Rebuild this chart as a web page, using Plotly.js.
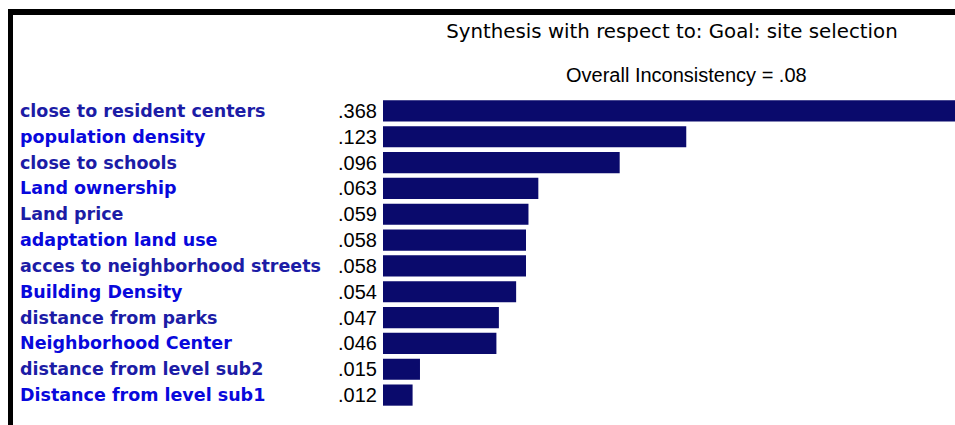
<!DOCTYPE html>
<html>
<head>
<meta charset="utf-8">
<script src="https://cdn.plot.ly/plotly-3.0.1.min.js"></script>
<style>
  html, body { margin: 0; padding: 0; background: #ffffff; }
  #wrap { position: relative; width: 955px; height: 425px; overflow: hidden; }
  #chart { position: absolute; left: 0; top: 0; width: 955px; height: 425px; }
  #frame { position: absolute; left: 8px; top: 9px; width: 960px; height: 430px;
           border-top: 6px solid #000; border-left: 5px solid #000; pointer-events: none; }
</style>
</head>
<body>
<div id="wrap">
  <div id="chart"></div>
  <div id="frame"></div>
</div>
<script>
// ---- data ----
const categories = [
  "close to resident centers",
  "population density",
  "close to schools",
  "Land ownership",
  "Land price",
  "adaptation land use",
  "acces to neighborhood streets",
  "Building Density",
  "distance from parks",
  "Neighborhood Center",
  "distance from level sub2",
  "Distance from level sub1"
];
const priorities = [0.368, 0.123, 0.096, 0.063, 0.059, 0.058, 0.058, 0.054, 0.047, 0.046, 0.015, 0.012];
const titleText = "Synthesis with respect to: Goal: site selection";
const subtitleText = "Overall Inconsistency = .08";

// formatted value labels, e.g. ".368"
const valueLabels = priorities.map(v => v.toFixed(3).replace(/^0/, ""));

const W = 955, H = 425;
const plotLeft = 383, plotRight = 955;
const plotW = plotRight - plotLeft;

const labelColors = categories.map((c, i) => (i % 2 === 0 ? "#1c1ca6" : "#0808dc"));

const trace = {
  type: "bar",
  orientation: "h",
  y: categories,
  x: priorities,
  marker: { color: "#0a0a6c", line: { width: 0 } },
  hoverinfo: "skip",
  cliponaxis: true
};

const nameAnnotations = categories.map((c, i) => ({
  xref: "paper", yref: "y",
  x: (18 - plotLeft) / plotW, y: c,
  xanchor: "left", yanchor: "middle",
  text: c, showarrow: false,
  font: { family: "DejaVu Sans", size: 17.5, color: labelColors[i], weight: "bold" }
}));

const layout = {
  width: W, height: H,
  margin: { l: plotLeft, r: W - plotRight, t: 98, b: 17, pad: 0 },
  paper_bgcolor: "#ffffff",
  plot_bgcolor: "#ffffff",
  showlegend: false,
  bargap: 0.18,
  title: {
    text: titleText,
    xref: "paper", yref: "container",
    x: (672 - plotLeft) / plotW, xanchor: "center",
    y: 1 - 31 / H, yanchor: "middle",
    font: { family: "DejaVu Sans", size: 19.8, color: "#000000" }
  },
  xaxis: {
    range: [0, 0.232],
    showgrid: false, zeroline: false, showline: false,
    showticklabels: false, ticks: "", fixedrange: true
  },
  yaxis: {
    type: "category",
    categoryorder: "array", categoryarray: categories,
    autorange: "reversed",
    tickvals: categories, ticktext: valueLabels,
    ticks: "", showgrid: false, zeroline: false, showline: false,
    ticklabelstandoff: 5,
    tickfont: { family: "Liberation Sans", size: 20, color: "#000000" },
    fixedrange: true
  },
  annotations: [
    {
      xref: "paper", yref: "paper",
      x: (686 - plotLeft) / plotW, y: (H - 17 - 75) / (H - 98 - 17),
      xanchor: "center", yanchor: "middle",
      text: subtitleText, showarrow: false,
      font: { family: "Liberation Sans", size: 20, color: "#000000" }
    }
  ].concat(nameAnnotations)
};

Plotly.newPlot("chart", [trace], layout, { displayModeBar: false, staticPlot: true });
</script>
</body>
</html>
